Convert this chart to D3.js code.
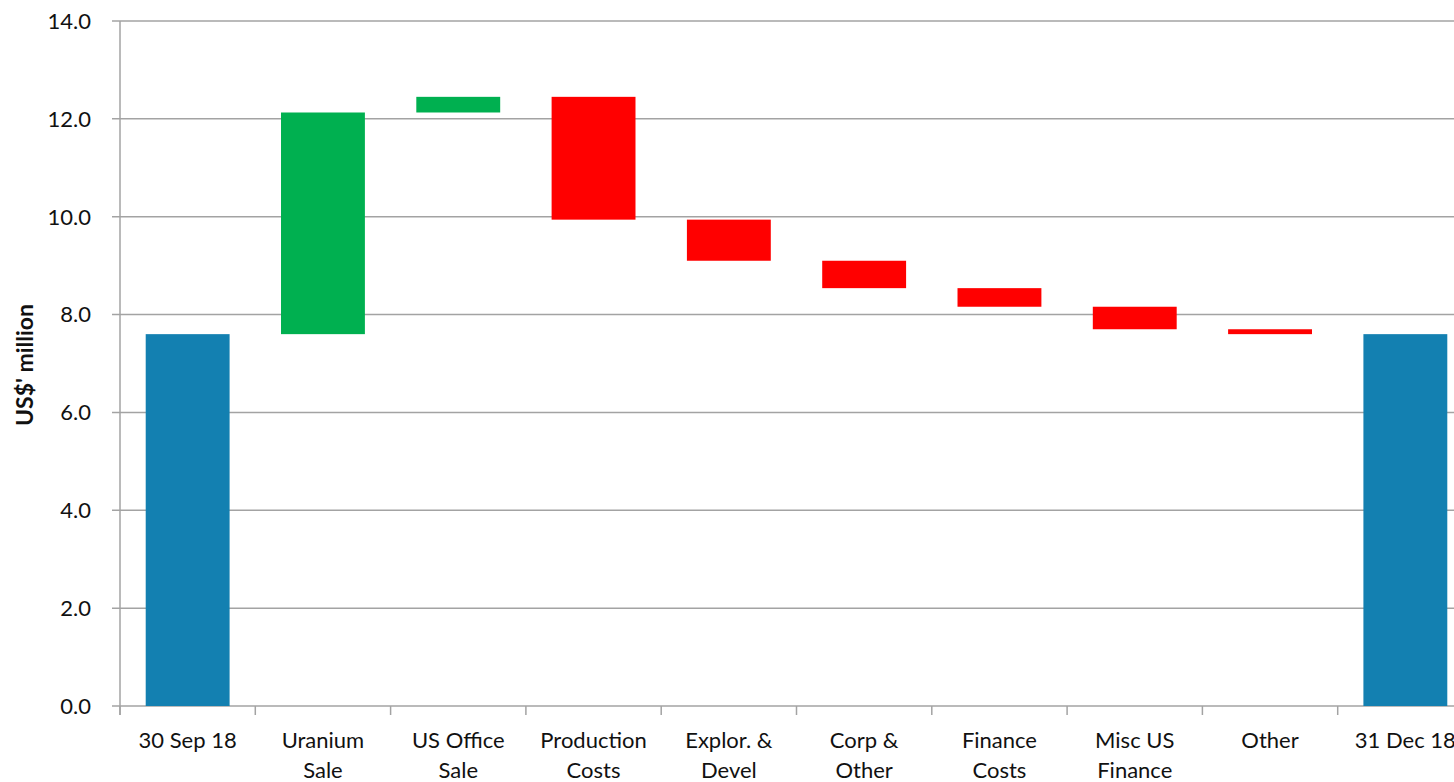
<!DOCTYPE html>
<html>
<head>
<meta charset="utf-8">
<script src="https://cdn.jsdelivr.net/npm/d3@7"></script>
<style>
  body { margin: 0; background: #fff; }
  svg { display: block; font-family: Lato, "Open Sans", sans-serif; }
</style>
</head>
<body>
<div id="chart"></div>
<script>
// waterfall data (US$ million)
const categories = ["30 Sep 18", "Uranium|Sale", "US Office|Sale", "Production|Costs", "Explor. &|Devel",
  "Corp &|Other", "Finance|Costs", "Misc US|Finance", "Other", "31 Dec 18"];
const kinds = ["total", "delta", "delta", "delta", "delta", "delta", "delta", "delta", "delta", "total"];
const values = [7.60, 4.53, 0.32, -2.51, -0.84, -0.56, -0.38, -0.46, -0.10, 7.60];
const yTicks = [0, 2, 4, 6, 8, 10, 12, 14];

const W = 1454, H = 782;
const plotLeft = 120, plotTop = 21, plotBottom = 706;
const step = 135.3;

const svg = d3.select("#chart").append("svg")
  .attr("width", W).attr("height", H);

const x = d3.scaleBand()
  .domain(categories)
  .range([plotLeft, plotLeft + step * categories.length])
  .paddingInner(0.38).paddingOuter(0.19);

const y = d3.scaleLinear().domain([0, 14]).range([plotBottom, plotTop]);

// running totals for bar ends
let run = 0;
const bars = categories.map((c, i) => {
  let y0, y1;
  if (kinds[i] === "total") { y0 = 0; y1 = values[i]; run = values[i]; }
  else { y0 = run; y1 = run + values[i]; run = y1; }
  return {c, y0, y1, kind: kinds[i], v: values[i]};
});

// gridlines
svg.append("g")
  .selectAll("line")
  .data(yTicks)
  .join("line")
  .attr("x1", plotLeft - 8).attr("x2", W)
  .attr("y1", d => y(d)).attr("y2", d => y(d))
  .attr("stroke", "#a3a3a3").attr("stroke-width", 1.5);

// y axis line
svg.append("line")
  .attr("x1", plotLeft).attr("x2", plotLeft)
  .attr("y1", plotTop).attr("y2", plotBottom + 9)
  .attr("stroke", "#a3a3a3").attr("stroke-width", 1.5);

// y tick labels
svg.append("g")
  .selectAll("text")
  .data(yTicks)
  .join("text")
  .attr("x", 91).attr("y", d => y(d))
  .attr("dy", "0.36em")
  .attr("text-anchor", "end")
  .attr("font-size", 22).attr("fill", "#111")
  .text(d => d.toFixed(1));

// x tick marks at category boundaries
const bounds = d3.range(categories.length).map(i => plotLeft + x.step() * i);
svg.append("g")
  .selectAll("line")
  .data(bounds)
  .join("line")
  .attr("x1", d => d).attr("x2", d => d)
  .attr("y1", plotBottom).attr("y2", plotBottom + 9)
  .attr("stroke", "#a3a3a3").attr("stroke-width", 1.5);

// bars
const color = d => d.kind === "total" ? "#1380b1" : (d.v >= 0 ? "#00b050" : "#ff0000");
svg.append("g")
  .selectAll("rect")
  .data(bars)
  .join("rect")
  .attr("x", d => x(d.c))
  .attr("width", x.bandwidth())
  .attr("y", d => y(Math.max(d.y0, d.y1)))
  .attr("height", d => Math.abs(y(d.y0) - y(d.y1)))
  .attr("fill", color);

// category labels
const lab = svg.append("g")
  .selectAll("text")
  .data(categories)
  .join("text")
  .attr("text-anchor", "middle")
  .attr("font-size", 22).attr("fill", "#111");
lab.each(function(c) {
  const parts = c.split("|");
  const cx = x(c) + x.bandwidth() / 2;
  d3.select(this).selectAll("tspan")
    .data(parts)
    .join("tspan")
    .attr("x", cx)
    .attr("y", (p, j) => 748 + j * 30)
    .text(p => p);
});

// y axis title
svg.append("text")
  .attr("transform", "translate(33,365) rotate(-90)")
  .attr("text-anchor", "middle")
  .attr("font-size", 23).attr("font-weight", "bold").attr("fill", "#111")
  .text("US$' million");
</script>
</body>
</html>
